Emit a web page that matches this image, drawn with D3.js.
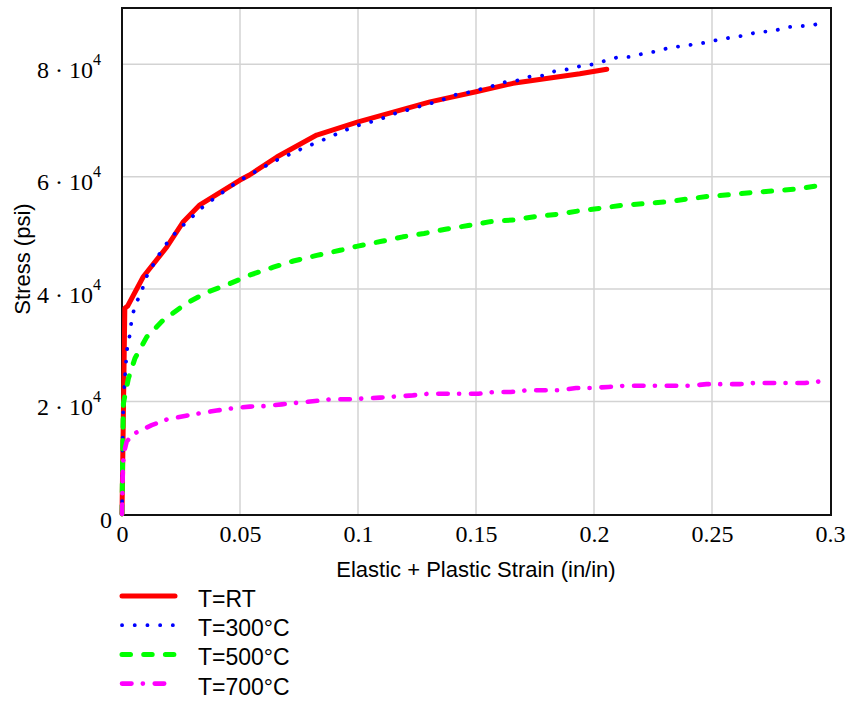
<!DOCTYPE html>
<html><head><meta charset="utf-8">
<script src="https://cdn.jsdelivr.net/npm/d3@7"></script>
<style>
body{margin:0;background:#fff;}
svg{display:block;}
.serif{font-family:"Liberation Serif","Times New Roman",serif;}
.sans{font-family:"Liberation Sans",Arial,sans-serif;}
</style></head>
<body><svg id="c" width="852" height="702"></svg>
<script>
const xTicks = [0, 0.05, 0.1, 0.15, 0.2, 0.25, 0.3];
const xTickLabels = ["0", "0.05", "0.1", "0.15", "0.2", "0.25", "0.3"];
const yTicks = [0, 20000, 40000, 60000, 80000];
const yTickMantissa = ["0", "2", "4", "6", "8"];
const seriesNames = ["T=RT", "T=300°C", "T=500°C", "T=700°C"];

const strainRT = [0, 0.0012, 0.0024, 0.009, 0.019, 0.026, 0.033, 0.05, 0.054, 0.0656, 0.0825, 0.0997, 0.1305, 0.150, 0.1657, 0.194, 0.2054];
const stressRT = [0, 36600, 37000, 42200, 47500, 52000, 55000, 59400, 60300, 63500, 67400, 69700, 73300, 75100, 76600, 78300, 79100];

const strain300 = [0, 0.0003, 0.0006, 0.0013, 0.0021, 0.003, 0.0037, 0.0044, 0.0059, 0.0083, 0.0097, 0.0128, 0.0158, 0.0189, 0.0236, 0.0284, 0.033, 0.0383, 0.0436, 0.049, 0.0544, 0.0599, 0.0653, 0.0706, 0.0758, 0.0814, 0.0867, 0.0921, 0.0976, 0.103, 0.1083, 0.1137, 0.119, 0.1244, 0.1298, 0.1353, 0.1405, 0.146, 0.1514, 0.1568, 0.1622, 0.1675, 0.1729, 0.1784, 0.1836, 0.1891, 0.1945, 0.1999, 0.2054, 0.2107, 0.2161, 0.2216, 0.227, 0.2323, 0.2377, 0.2431, 0.2484, 0.2539, 0.2592, 0.2647, 0.27, 0.2754, 0.2808, 0.2861, 0.2915, 0.2969];
const stress300 = [0, 15000, 20000, 24700, 29200, 31000, 33300, 35300, 37500, 39400, 41700, 44000, 46200, 48100, 50500, 52300, 54200, 55900, 57500, 59100, 60400, 61700, 62900, 63900, 64900, 65900, 66800, 67800, 68800, 69500, 70000, 71000, 71600, 72300, 72900, 73600, 74500, 74900, 75500, 76100, 76800, 77100, 77800, 78000, 78800, 79100, 79700, 80000, 80700, 81300, 81300, 82000, 82300, 83000, 83200, 83600, 83900, 84500, 84800, 85200, 85800, 85800, 86500, 86800, 86800, 87400];

const strain500 = [0, 0.0004, 0.0006, 0.0027, 0.0055, 0.0105, 0.0175, 0.0274, 0.0359, 0.0458, 0.0542, 0.0641, 0.0726, 0.0825, 0.0924, 0.0994, 0.110, 0.119, 0.128, 0.1376, 0.1467, 0.156, 0.1658, 0.175, 0.1842, 0.1934, 0.2011, 0.2117, 0.2209, 0.23, 0.2393, 0.2484, 0.2576, 0.2675, 0.2767, 0.2859, 0.295, 0.298];
const stress500 = [0, 15000, 19700, 24100, 27700, 31500, 34500, 37500, 39400, 41000, 42500, 43900, 45000, 46000, 46900, 47600, 48500, 49300, 49900, 50700, 51300, 52000, 52300, 52900, 53300, 53900, 54300, 54900, 55200, 55500, 56000, 56500, 56800, 57200, 57500, 57800, 58400, 58500];

const strain700 = [0, 0.0004, 0.0013, 0.002, 0.0051, 0.0126, 0.0189, 0.026, 0.0328, 0.0401, 0.0467, 0.0542, 0.0606, 0.0677, 0.0744, 0.0818, 0.0881, 0.0959, 0.1093, 0.1232, 0.13, 0.1438, 0.151, 0.1576, 0.1647, 0.1715, 0.1853, 0.1924, 0.199, 0.2061, 0.2128, 0.234, 0.2407, 0.2477, 0.2619, 0.2682, 0.2894, 0.2961];
const stress700 = [0, 9000, 11700, 12900, 14300, 15800, 16800, 17400, 17900, 18400, 18800, 19100, 19200, 19500, 19800, 20100, 20400, 20400, 20700, 21100, 21400, 21400, 21400, 21700, 21700, 22000, 22000, 22400, 22400, 22600, 22800, 22800, 22800, 23100, 23100, 23300, 23300, 23600];

const svg = d3.select("#c");
const x = d3.scaleLinear().domain([0, 0.3]).range([122, 830]);
const y = d3.scaleLinear().domain([0, 90000]).range([514, 8]);

// grid
const grid = svg.append("g");
grid.selectAll("line.gx").data(xTicks.slice(1, -1)).join("line")
  .attr("x1", d => x(d)).attr("x2", d => x(d)).attr("y1", y(90000)).attr("y2", y(0))
  .attr("stroke", "#d3d3d3").attr("stroke-width", 1.5);
grid.selectAll("line.gy").data(yTicks.slice(1)).join("line")
  .attr("x1", x(0)).attr("x2", x(0.3)).attr("y1", d => y(d)).attr("y2", d => y(d))
  .attr("stroke", "#d3d3d3").attr("stroke-width", 1.5);

// x axis labels
const xAxis = d3.axisBottom(x).tickValues(xTicks).tickSize(0).tickPadding(11)
  .tickFormat((d, i) => xTickLabels[i]);
const gx = svg.append("g").attr("transform", `translate(0,${y(0)})`).call(xAxis);
gx.attr("font-family", null).attr("font-size", null);
gx.select(".domain").remove();
gx.selectAll("text").attr("class", "serif").style("font-size", "24px").attr("fill", "#000");

// y axis labels
const yAxis = d3.axisLeft(y).tickValues(yTicks).tickSize(0).tickPadding(0).tickFormat(() => "");
const gy = svg.append("g").call(yAxis);
gy.attr("font-family", null).attr("font-size", null);
gy.select(".domain").remove();
gy.selectAll(".tick text").each(function(d, i) {
  const t = d3.select(this);
  t.attr("x", 0).attr("dy", null).attr("y", 0).attr("class", "serif").style("font-size", "24px")
   .attr("fill", "#000").attr("text-anchor", "end").attr("transform", "translate(112,13)");
  if (d === 0) {
    t.text(yTickMantissa[i]);
  } else {
    t.attr("transform", "translate(101,13)");
    t.append("tspan").text(yTickMantissa[i] + " \u00B7 10");
    t.append("tspan").style("font-size", "16px").attr("dy", -13).text("4");
  }
});

// frame
svg.append("rect").attr("x", x(0)).attr("y", y(90000)).attr("width", x(0.3) - x(0) + 1).attr("height", y(0) - y(90000) + 1)
  .attr("fill", "none").attr("stroke", "#111").attr("stroke-width", 2);

// series
const series = [
  {sx: strainRT, sy: stressRT, color: "#ff0000", w: 5, dash: null},
  {sx: strain300, sy: stress300, color: "#0000ff", w: 3.8, dash: "0.1 12.6"},
  {sx: strain500, sy: stress500, color: "#00ff00", w: 5, dash: "8.5 13.2"},
  {sx: strain700, sy: stress700, color: "#ff00ff", w: 4.6, dash: "9.5 11.3 0.1 11.8"}
];
const line = d3.line().x(d => x(d[0])).y(d => y(d[1]));
series.forEach(s => {
  const pts = s.sx.map((v, i) => [v, s.sy[i]]);
  const p = svg.append("path").datum(pts).attr("d", line)
    .attr("fill", "none").attr("stroke", s.color).attr("stroke-width", s.w)
    .attr("stroke-linecap", "round").attr("stroke-linejoin", "round");
  if (s.dash) p.attr("stroke-dasharray", s.dash);
});

// axis titles
svg.append("text").attr("x", (x(0) + x(0.3)) / 2).attr("y", 577).attr("text-anchor", "middle")
  .attr("class", "sans").style("font-size", "22px").attr("fill", "#000").text("Elastic + Plastic Strain (in/in)");
svg.append("text").attr("transform", "translate(30,259) rotate(-90)").attr("text-anchor", "middle")
  .attr("class", "sans").style("font-size", "22px").attr("fill", "#000").text("Stress (psi)");

// legend
const leg = svg.append("g");
series.forEach((s, i) => {
  const yy = 596 + i * 29.2;
  const l = leg.append("line").attr("x1", 122).attr("x2", 175).attr("y1", yy).attr("y2", yy)
    .attr("stroke", s.color).attr("stroke-width", s.w).attr("stroke-linecap", "round");
  if (s.dash) l.attr("stroke-dasharray", s.dash);
  leg.append("text").attr("x", 198).attr("y", yy + 11).attr("class", "sans").style("font-size", "23px")
    .attr("fill", "#000").text(seriesNames[i]);
});
</script></body></html>
